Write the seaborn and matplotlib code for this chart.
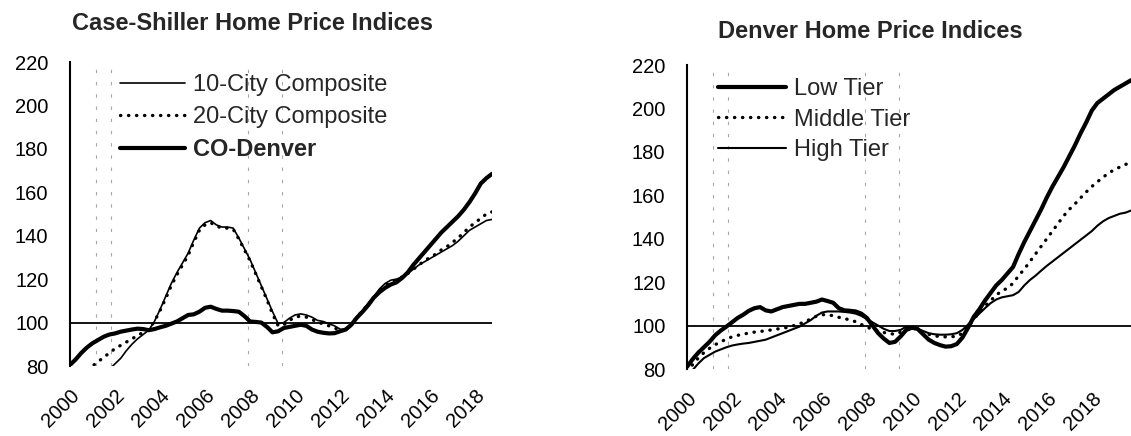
import numpy as np
import seaborn as sns
import matplotlib.pyplot as plt

# quarterly points, index rebased (2012 ~ 100)
years_cs = np.arange(2000, 2018.76, 0.25)
ten_city = [66, 67.5, 69, 70.5,
            72, 74, 76, 78.5,
            81, 83.5, 87, 90,
            92.5, 94.5, 96.5, 100.5,
            106, 112, 118, 123,
            127.5, 132, 138, 143.5,
            146, 147, 145, 144,
            144, 143.5, 139, 134,
            129, 123, 117, 111,
            105, 99.5, 100, 102,
            103.5, 104, 103.5, 102.5,
            101, 100.5, 99.5, 98.5,
            97, 96.5, 99, 102.5,
            105.5, 109, 112, 115.5,
            118, 119.5, 120, 121,
            122.5, 124.5, 126.5, 128,
            129.5, 131, 132.5, 134,
            135.5, 137.5, 140, 142.5,
            144, 145.5, 147, 147.5]
twenty_city = [71, 72.5, 74.5, 77,
               80, 82, 84, 86,
               88, 89.5, 91, 92.5,
               94, 95.5, 96.8, 100.5,
               105.5, 111, 117, 122,
               126.5, 131, 137, 142.5,
               145, 146, 144.5, 143.5,
               143.5, 143, 138.5, 133.5,
               128.5, 122.5, 116.5, 110.5,
               104, 98.5, 99, 101,
               102.5, 103, 102.5, 101.5,
               100, 99.5, 98.5, 97.5,
               96.5, 96.5, 99, 102.5,
               105.5, 108.5, 111.5, 114.5,
               117, 118.5, 119.5, 121,
               122.5, 124.5, 126.5, 128.5,
               130, 131.5, 133.5, 135,
               137, 139, 141.5, 144,
               146, 148, 150, 151]
co_denver = [80.5, 83, 86, 88.5,
             90.5, 92, 93.5, 94.5,
             95, 95.8, 96.3, 96.8,
             97.2, 97, 96.5, 97,
             97.8, 98.5, 99.5, 100.5,
             102, 103.5, 103.8, 105,
             106.8, 107.3, 106.3, 105.5,
             105.5, 105.3, 105, 103,
             100.5, 100.3, 100, 98,
             95.5, 96, 97.5, 98,
             98.5, 99, 98.5, 96.8,
             95.8, 95.3, 95, 95.1,
             96, 96.8, 99, 102.3,
             105, 108, 111.5, 114,
             116, 117.5, 118.5, 120.5,
             123, 126.5, 129.5, 132.5,
             135.5, 138.5, 141.5, 144,
             146.5, 149, 152, 155.5,
             159.5, 164, 166.5, 168.5]

years_den = np.arange(2000, 2020.01, 0.25)
low_tier = [81, 84.5, 87.5, 90,
            92.5, 95.5, 97.7, 99.5,
            101.5, 103.5, 105, 106.8,
            108, 108.5, 107, 106.5,
            107.5, 108.5, 109, 109.5,
            110, 110, 110.5, 111,
            112, 111.3, 110.5, 108,
            107, 106.8, 106.5, 105.5,
            103.5, 100, 96.5, 94,
            92, 92.5, 95, 98,
            99, 98.5, 96, 93.5,
            92, 91, 90.3, 90.5,
            91.5, 94.5, 99, 104,
            107.5, 111.5, 115, 118.5,
            121, 124, 127, 133,
            138.5, 143.5, 148.5, 153.5,
            159, 164, 168.5, 173,
            178, 183, 188.5, 193.5,
            199, 202.5, 204.5, 206.5,
            208.5, 210, 211.5, 213,
            214]
middle_tier = [79, 82, 85, 87.5,
               89.5, 91.2, 92.5, 93.8,
               94.8, 95.5, 96, 96.6,
               97, 97.3, 97.6, 98,
               98.4, 98.8, 99.2, 100,
               100.8, 101.8, 103, 104.3,
               105, 105, 104.5, 103.8,
               103.3, 102.5, 101.8, 100.5,
               99.3, 98.3, 97.5, 96.8,
               96.3, 96, 97, 98.8,
               99, 98.3, 97, 96,
               95.3, 94.9, 94.8, 94.9,
               95, 96.5, 99.5, 103,
               106, 109, 111.5, 114,
               116, 117.2, 119.5, 123,
               126, 129.5, 133, 136.5,
               140, 143.5, 147, 150.5,
               153.5, 156, 158.8, 161.5,
               164, 166.2, 168.3, 170.2,
               171.8, 173, 174.2, 175.2,
               176]
high_tier = [77.5, 79.5, 82.5, 85,
             86.5, 88, 89, 90,
             90.8, 91.3, 91.7, 92,
             92.5, 93, 93.5, 94.5,
             95.5, 96.5, 97.5, 98.5,
             99.5, 101, 102.5, 104.5,
             106, 106.5, 106.5, 106.5,
             106.3, 106, 105.5, 104.5,
             103, 101.5, 100, 98.5,
             97.5, 97.5, 98, 99.5,
             99.3, 98.5, 97.5, 96.5,
             96, 95.8, 95.8, 96,
             96.5, 98, 100.5, 103,
             105.5, 108, 110.3, 112,
             113, 113.5, 114, 115.5,
             118.5, 121, 123, 125.3,
             127.5, 129.5, 131.5, 133.5,
             135.5, 137.5, 139.5, 141.5,
             143.5, 146, 148, 149.5,
             150.5, 151.5, 152, 153,
             153.5]

recessions = [(2001.17, 2001.83), (2007.92, 2009.42)]
tick_years = list(range(2000, 2019, 2))
y_ticks = list(range(80, 221, 20))

sns.set_theme(style='white')
plt.rcParams['font.family'] = ['Liberation Sans', 'DejaVu Sans']

W, H = 1131, 436
fig = plt.figure(figsize=(W / 100, H / 100), dpi=100)
ax1 = fig.add_axes([70 / W, 70 / H, 422 / W, 304 / H])
ax2 = fig.add_axes([687 / W, 67 / H, 461 / W, 304 / H])

dots = (0, (0.1, 2.3))


def style_axes(ax, x_end):
    ax.set_xlim(2000, x_end)
    ax.set_ylim(80, 220)
    ax.axhline(100, color='black', lw=1.3, zorder=1)
    # faint outlines of the recession bands
    for a, b in recessions:
        for xv in (a, b):
            ax.axvline(xv, color='0.65', lw=0.8, ls=(0, (3, 8)), zorder=0)
    ax.set_xticks(tick_years)
    ax.set_xticklabels([str(y) for y in tick_years], rotation=45,
                       ha='right', rotation_mode='anchor')
    ax.set_yticks(y_ticks)
    ax.tick_params(axis='x', length=0, pad=14, labelsize=14.5, colors='black')
    ax.tick_params(axis='y', length=0, pad=15.5, labelsize=14.5, colors='black')
    for s in ['top', 'right', 'bottom']:
        ax.spines[s].set_visible(False)
    ax.spines['left'].set_color('black')
    ax.spines['left'].set_linewidth(1.5)
    ax.set_xlabel('')
    ax.set_ylabel('')


def add_line(ax, x, y, label, lw, dotted=False, z=3):
    sns.lineplot(x=x, y=y, ax=ax, color='black', linewidth=lw, label=label,
                 estimator=None, sort=False, zorder=z)
    line = ax.get_lines()[-1]
    if dotted:
        line.set_linestyle(dots)
        line.set_dash_capstyle('round')
    return line


# left panel
h1 = [add_line(ax1, years_cs, ten_city, '10-City Composite', 1.2),
      add_line(ax1, years_cs, twenty_city, '20-City Composite', 2.4, dotted=True),
      add_line(ax1, years_cs, co_denver, 'CO-Denver', 3.0, z=4)]
style_axes(ax1, 2018.75)
leg1 = ax1.legend(handles=h1, loc='upper left', bbox_to_anchor=(120 / W, 1 - 74 / H),
                  bbox_transform=fig.transFigure, frameon=False, fontsize=17,
                  handlelength=2.75, handletextpad=0.34, labelspacing=0.43,
                  borderpad=0, borderaxespad=0)
leg1.get_texts()[2].set_fontweight('bold')

# right panel
h2 = [add_line(ax2, years_den, low_tier, 'Low Tier', 3.0, z=4),
      add_line(ax2, years_den, middle_tier, 'Middle Tier', 2.4, dotted=True),
      add_line(ax2, years_den, high_tier, 'High Tier', 1.5)]
style_axes(ax2, 2020.5)
ax2.legend(handles=h2, loc='upper left', bbox_to_anchor=(718 / W, 1 - 78 / H),
           bbox_transform=fig.transFigure, frameon=False, fontsize=17,
           handlelength=2.9, handletextpad=0.3, labelspacing=0.37,
           borderpad=0, borderaxespad=0)

fig.text(253 / W, 1 - 23 / H, 'Case-Shiller Home Price Indices', ha='center',
         va='center', fontsize=17, fontweight='bold')
fig.text(870 / W, 1 - 32 / H, 'Denver Home Price Indices', ha='center',
         va='center', fontsize=17, fontweight='bold')

fig.savefig('out.png', dpi=100)
